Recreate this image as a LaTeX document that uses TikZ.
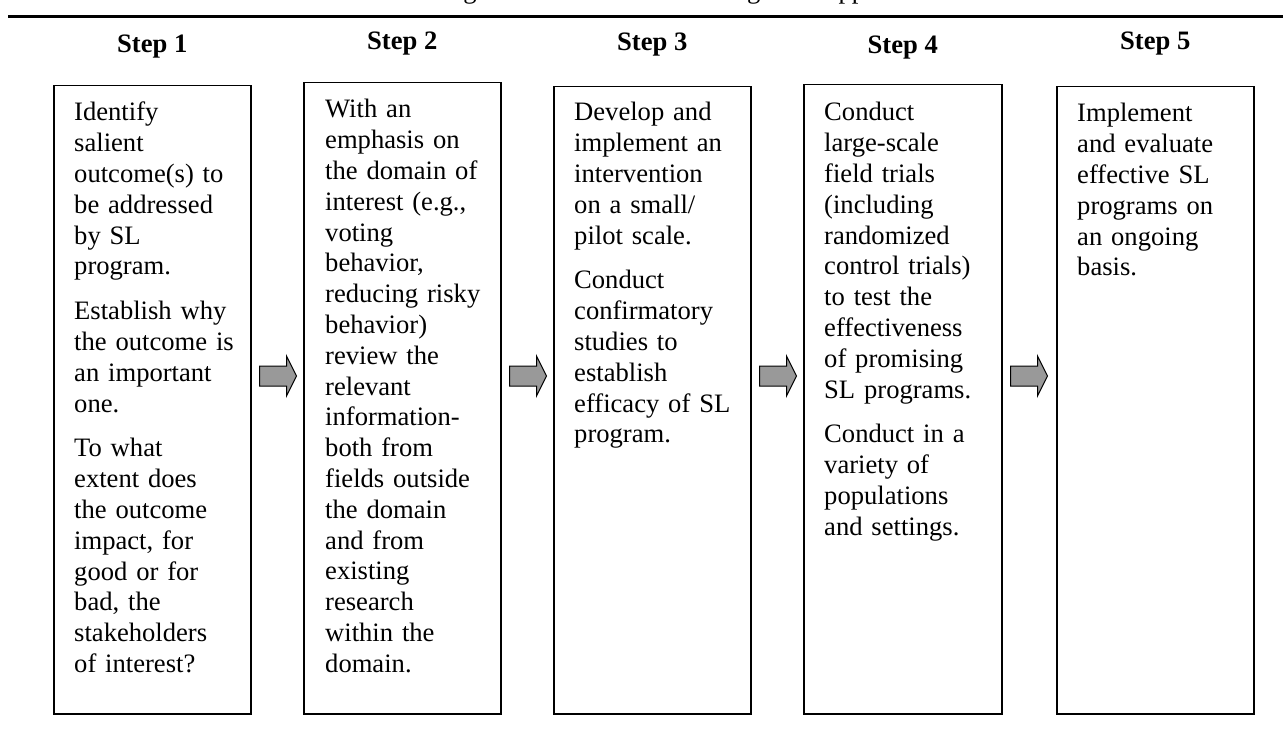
\documentclass[tikz,border=0pt]{standalone}
\usepackage{fontspec}
\setmainfont{Liberation Serif}
\usetikzlibrary{calc}
\tikzset{
	stepbox/.style={draw, line width=1.5pt, minimum width=197pt, minimum height=628pt, anchor=north west, inner sep=0pt},
	steptext/.style={anchor=base west, inner sep=0pt, text width=175pt, align=left, font=\fontsize{26.6}{30.8}\selectfont},
	stephead/.style={anchor=base, inner sep=0pt, font=\fontsize{26.6}{30.8}\selectfont\bfseries},
	arrowfill/.style={draw, line width=1pt, fill=black!40, line join=miter}
}
\def\stepgap{\\[14pt]}
\def\blockarrow(#1){\draw[arrowfill] ($(#1)+(0,-10)$) -- ++(27,0) -- ++(0,-10) -- ++(10,20) -- ++(-10,20) -- ++(0,-10) -- ++(-27,0) -- cycle;}

\begin{document}
\begin{tikzpicture}[x=1pt, y=-1pt]
		%%%%% START %%%%%
		\useasboundingbox (0,0) rectangle (1283,738);
		
		\node[anchor=base, inner sep=0pt, font=\fontsize{26.6}{30.8}\selectfont] (cap) at (668,-1) {Multi-stage Research Process as Might be Applied to SL};
		\draw[line width=3pt] (8,17) -- (1283,17);
		
		\node[stepbox] (s1) at (53,85) {};
		\node[stepbox, minimum height=631pt] (s2) at (303,82) {};
		\node[stepbox, minimum height=627pt] (s3) at (553,86) {};
		\node[stepbox, minimum height=629pt, minimum width=198pt] (s4) at (803,84) {};
		\node[stepbox, minimum height=627pt] (s5) at (1056,86) {};
		
		\node[stephead] (h1) at ($(s1.north)+(0,-32)$) {Step 1};
		\node[stephead] (h2) at ($(s2.north)+(0,-32)$) {Step 2};
		\node[stephead] (h3) at ($(s3.north)+(0,-35)$) {Step 3};
		\node[stephead] (h4) at ($(s4.north)+(0,-30)$) {Step 4};
		\node[stephead] (h5) at ($(s5.north)+(0,-36)$) {Step 5};
		
		\node[steptext] (t1) at ($(s1.north west)+(21,36)$) {Identify\\ salient\\ outcome(s) to\\ be addressed\\ by SL\\ program.\stepgap Establish why\\ the outcome is\\ an important\\ one.\stepgap To what\\ extent does\\ the outcome\\ impact, for\\ good or for\\ bad, the\\ stakeholders\\ of interest?};
		\node[steptext] (t2) at ($(s2.north west)+(22,36)$) {With an\\ emphasis on\\ the domain of\\ interest (e.g.,\\ voting\\ behavior,\\ reducing risky\\ behavior)\\ review the\\ relevant\\ information-\\ both from\\ fields outside\\ the domain\\ and from\\ existing\\ research\\ within the\\ domain.};
		\node[steptext] (t3) at ($(s3.north west)+(21,35)$) {Develop and\\ implement an\\ intervention\\ on a small/\\ pilot scale.\stepgap Conduct\\ confirmatory\\ studies to\\ establish\\ efficacy of SL\\ program.};
		\node[steptext] (t4) at ($(s4.north west)+(21,37)$) {Conduct\\ large-scale\\ field trials\\ (including\\ randomized\\ control trials)\\ to test the\\ effectiveness\\ of promising\\ SL programs.\stepgap Conduct in a\\ variety of\\ populations\\ and settings.};
		\node[steptext] (t5) at ($(s5.north west)+(21,36)$) {Implement\\ and evaluate\\ effective SL\\ programs on\\ an ongoing\\ basis.};
		
		% arrows between the steps
		\coordinate (mid) at (0,376);
		\coordinate (a1) at ($(s1.east |- mid)+(8,0)$);
		\coordinate (a2) at ($(s2.east |- mid)+(8,0)$);
		\coordinate (a3) at ($(s3.east |- mid)+(8,0)$);
		\coordinate (a4) at ($(s4.east |- mid)+(8,0)$);
		\blockarrow(a1)
		\blockarrow(a2)
		\blockarrow(a3)
		\blockarrow(a4)
		
		%%%%% END %%%%%
\end{tikzpicture}
\end{document}
